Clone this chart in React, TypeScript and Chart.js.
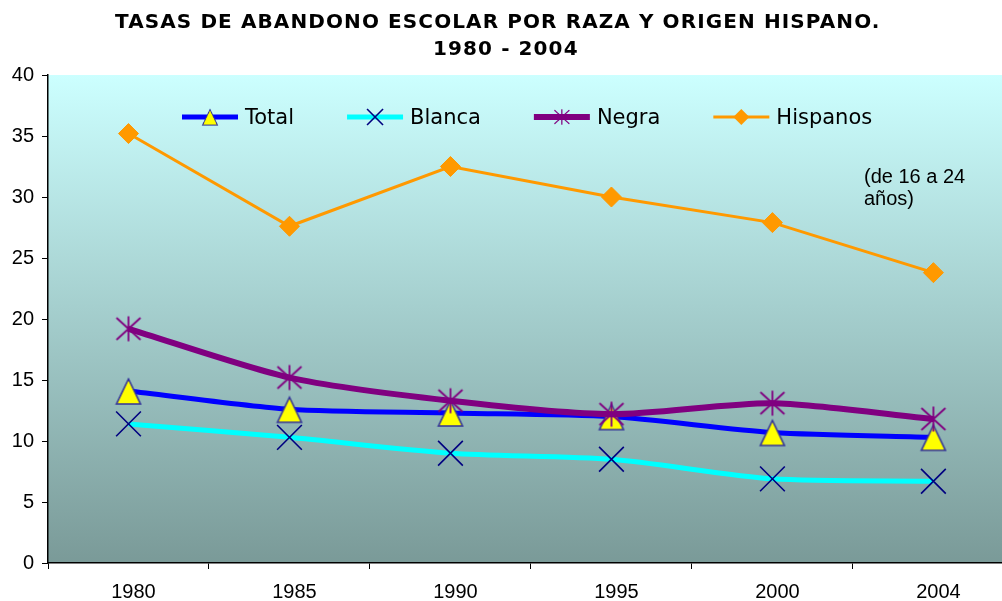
import React, { useEffect, useRef } from 'react';
import { Chart, registerables } from 'chart.js';

Chart.register(...registerables);

// ---- data ----
const years = ['1980', '1985', '1990', '1995', '2000', '2004'];
const total = [14.1, 12.6, 12.3, 12.0, 10.7, 10.3];
const blanca = [11.4, 10.3, 9.0, 8.5, 6.9, 6.7];
const negra = [19.2, 15.2, 13.3, 12.2, 13.1, 11.8];
const hispanos = [35.2, 27.6, 32.5, 30.0, 27.9, 23.8];
const seriesNames = ['Total', 'Blanca', 'Negra', 'Hispanos'];
const titleLines = ['TASAS DE ABANDONO ESCOLAR POR RAZA Y ORIGEN HISPANO.', '1980 - 2004'];
const noteLines = ['(de 16 a 24', 'años)'];
const yMin = 0;
const yMax = 40;
const yStep = 5;

function makeTriangle(): HTMLCanvasElement {
  const c = document.createElement('canvas');
  c.width = 28;
  c.height = 30;
  const g = c.getContext('2d')!;
  g.beginPath();
  g.moveTo(14, 3);
  g.lineTo(2, 28);
  g.lineTo(26, 28);
  g.closePath();
  g.fillStyle = '#FFFF00';
  g.fill();
  g.lineWidth = 1.6;
  g.strokeStyle = '#333399';
  g.lineJoin = 'miter';
  g.stroke();
  return c;
}

function makeStar(): HTMLCanvasElement {
  const c = document.createElement('canvas');
  c.width = 28;
  c.height = 28;
  const g = c.getContext('2d')!;
  g.strokeStyle = '#800080';
  g.lineWidth = 1.8;
  g.beginPath();
  g.moveTo(14, 1.5);
  g.lineTo(14, 26.5);
  g.moveTo(2, 3);
  g.lineTo(26, 25);
  g.moveTo(2, 25);
  g.lineTo(26, 3);
  g.stroke();
  return c;
}

const decor = {
  id: 'decor',
  beforeDraw(chart: any) {
    const { ctx, chartArea: a } = chart;
    const g = ctx.createLinearGradient(0, a.top, 0, a.bottom);
    g.addColorStop(0, '#CCFFFF');
    g.addColorStop(1, '#7A9A98');
    ctx.save();
    ctx.fillStyle = g;
    ctx.fillRect(a.left, a.top, a.right - a.left, a.bottom - a.top);
    ctx.restore();
  },
  afterDraw(chart: any) {
    const ctx: CanvasRenderingContext2D = chart.ctx;
    ctx.save();
    // title
    ctx.fillStyle = '#000';
    ctx.font = 'bold 20px "DejaVu Sans"';
    (ctx as any).letterSpacing = '1.1px';
    ctx.textAlign = 'left';
    ctx.textBaseline = 'alphabetic';
    ctx.fillText(titleLines[0], 115, 28);
    ctx.fillText(titleLines[1], 433, 55);
    (ctx as any).letterSpacing = '0px';
    // note
    ctx.font = '20px "Liberation Sans"';
    ctx.fillText(noteLines[0], 864, 183);
    ctx.fillText(noteLines[1], 864, 205);
    // legend
    ctx.font = '21px "DejaVu Sans"';
    let x = 182;
    const y = 117;
    const lineLen = 56;
    chart.data.datasets.forEach((ds: any) => {
      ctx.strokeStyle = ds.borderColor;
      ctx.lineWidth = ds.borderWidth;
      ctx.beginPath();
      ctx.moveTo(x, y);
      ctx.lineTo(x + lineLen, y);
      ctx.stroke();
      const cx = x + lineLen / 2;
      const ps = ds.pointStyle;
      if (ps instanceof HTMLCanvasElement) {
        const s = 0.62;
        ctx.drawImage(ps, cx - (ps.width * s) / 2, y - (ps.height * s) / 2, ps.width * s, ps.height * s);
      } else if (ps === 'crossRot') {
        const h = 8;
        ctx.strokeStyle = ds.pointBorderColor;
        ctx.lineWidth = ds.pointBorderWidth;
        ctx.beginPath();
        ctx.moveTo(cx - h, y - h);
        ctx.lineTo(cx + h, y + h);
        ctx.moveTo(cx - h, y + h);
        ctx.lineTo(cx + h, y - h);
        ctx.stroke();
      } else if (ps === 'rectRot') {
        const r = 8;
        ctx.fillStyle = ds.pointBackgroundColor;
        ctx.beginPath();
        ctx.moveTo(cx, y - r);
        ctx.lineTo(cx + r, y);
        ctx.lineTo(cx, y + r);
        ctx.lineTo(cx - r, y);
        ctx.closePath();
        ctx.fill();
      }
      ctx.fillStyle = '#000';
      const tx = x + lineLen + 7;
      ctx.fillText(ds.label, tx, 124);
      x = tx + ctx.measureText(ds.label).width + 53;
    });
    ctx.restore();
  },
};

// Canvas is wider than the window: the plot area runs past the right edge, as in the reference.
const CANVAS_W = 1033;
const CANVAS_H = 601;

export default function App() {
  const ref = useRef<HTMLCanvasElement | null>(null);
  useEffect(() => {
    if (!ref.current) return;
    const tri = makeTriangle();
    const star = makeStar();
    const tickFont = { family: '"Liberation Sans", Arial', size: 20 };
    const chart = new Chart(ref.current, {
      type: 'line',
      data: {
        labels: years,
        datasets: [
          {
            label: seriesNames[0],
            data: total,
            borderColor: '#0000FF',
            borderWidth: 5,
            pointStyle: tri as any,
            pointRadius: 13,
            tension: 0.25,
            fill: false,
            order: 4,
          },
          {
            label: seriesNames[1],
            data: blanca,
            borderColor: '#00FFFF',
            borderWidth: 5,
            pointStyle: 'crossRot',
            pointRadius: 17.5,
            pointBorderColor: '#000080',
            pointBorderWidth: 1.6,
            tension: 0.25,
            fill: false,
            order: 3,
          },
          {
            label: seriesNames[2],
            data: negra,
            borderColor: '#800080',
            borderWidth: 6,
            pointStyle: star as any,
            pointRadius: 13,
            tension: 0.25,
            fill: false,
            order: 2,
          },
          {
            label: seriesNames[3],
            data: hispanos,
            borderColor: '#FF9900',
            borderWidth: 3,
            pointStyle: 'rectRot',
            pointRadius: 10,
            pointBackgroundColor: '#FF9900',
            pointBorderColor: '#FF9900',
            pointBorderWidth: 1,
            tension: 0,
            fill: false,
            order: 1,
          },
        ],
      },
      options: {
        responsive: false,
        animation: false,
        events: [],
        layout: { padding: { top: 75, left: 0, right: 0, bottom: 0 } },
        plugins: {
          legend: { display: false },
          title: { display: false },
          tooltip: { enabled: false },
        },
        scales: {
          x: {
            type: 'category',
            offset: true,
            grid: { offset: true, drawOnChartArea: false, drawTicks: true, tickLength: 6, color: '#000', lineWidth: 1 },
            border: { display: true, color: '#000', width: 1.5 },
            ticks: { color: '#000', font: tickFont, padding: 11, labelOffset: 5, maxRotation: 0, autoSkip: false },
            afterFit: (s: any) => {
              s.height = 38;
            },
          },
          y: {
            min: yMin,
            max: yMax,
            ticks: { stepSize: yStep, color: '#000', font: tickFont, padding: 8 },
            grid: { drawOnChartArea: false, drawTicks: true, tickLength: 6, color: '#000' },
            border: { display: true, color: '#000', width: 1.5 },
            afterFit: (s: any) => {
              s.width = 48;
            },
          },
        },
      },
      plugins: [decor],
    });
    return () => chart.destroy();
  }, []);
  return (
    <div style={{ position: 'fixed', left: 0, top: 0, width: 1002, height: 601, overflow: 'hidden', background: '#fff' }}>
      <div style={{ width: CANVAS_W, height: CANVAS_H }}>
        <canvas
          ref={ref}
          width={CANVAS_W}
          height={CANVAS_H}
          style={{ display: 'block', width: CANVAS_W, height: CANVAS_H }}
        />
      </div>
    </div>
  );
}
